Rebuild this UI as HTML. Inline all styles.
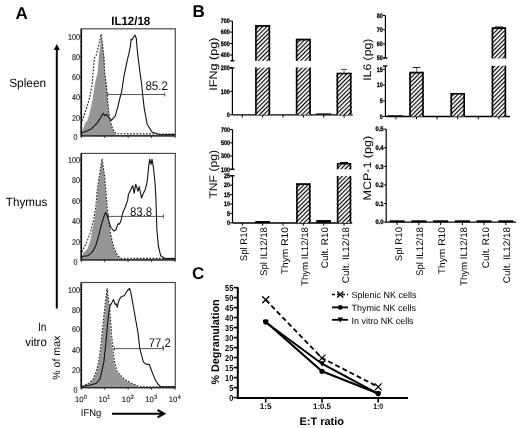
<!DOCTYPE html>
<html><head><meta charset="utf-8"><style>
html,body{margin:0;padding:0;background:#fff;overflow:hidden;}
svg{display:block;font-family:"Liberation Sans", sans-serif;text-rendering:geometricPrecision;will-change:transform;}
</style></head><body>
<svg width="520" height="428" viewBox="0 0 520 428" font-family='"Liberation Sans", sans-serif'>
<rect width="520" height="428" fill="#fff"/>
<text x="15.6" y="19.4" font-size="17" font-weight="bold" text-anchor="start" fill="#000">A</text>
<text x="111.2" y="24.5" font-size="12" font-weight="bold" text-anchor="start" fill="#000" textLength="39" lengthAdjust="spacingAndGlyphs">IL12/18</text>
<line x1="56.8" y1="308.6" x2="56.8" y2="49" stroke="#000" stroke-width="2"/>
<polygon points="53.8,50 59.8,50 56.8,44" fill="#000"/>
<text x="9.2" y="87.1" font-size="12" text-anchor="start" fill="#000" textLength="37" lengthAdjust="spacingAndGlyphs">Spleen</text>
<text x="5.8" y="206.2" font-size="12" text-anchor="start" fill="#000" textLength="41.5" lengthAdjust="spacingAndGlyphs">Thymus</text>
<text x="46.4" y="330.5" font-size="12" text-anchor="end" fill="#000" textLength="8.4" lengthAdjust="spacingAndGlyphs">In</text>
<text x="46.8" y="345.6" font-size="12" text-anchor="end" fill="#000" textLength="21.6" lengthAdjust="spacingAndGlyphs">vitro</text>
<text x="60.5" y="379.7" font-size="10.5" text-anchor="start" fill="#000" transform="rotate(-90 60.5 379.7)" textLength="44" lengthAdjust="spacingAndGlyphs">% of max</text>
<rect x="81.3" y="28.8" width="94.00000000000001" height="107.00000000000001" fill="none" stroke="#444" stroke-width="1.15"/>
<polygon points="82.0,135.5 82.0,131.0 83.1,128.7 85.0,123.6 87.6,120.0 90.2,110.7 92.8,97.9 94.7,85.0 97.6,72.0 99.0,55.0 100.4,44.0 101.1,34.2 102.5,44.0 104.0,58.0 104.6,72.0 106.3,85.0 107.3,97.9 108.6,110.7 109.9,119.7 110.8,123.6 112.4,128.7 114.6,132.6 116.5,135.5" fill="#969696" stroke="none"/>
<polyline points="82.0,121.0 82.5,119.7 85.7,110.7 89.6,97.9 91.3,88.9 92.1,85.0 93.1,72.0 94.5,58.0 96.2,55.2 99.0,44.0 101.1,34.2 102.5,44.0 104.0,58.0 104.6,72.0 106.3,85.0 107.3,97.9 108.6,110.7 109.9,119.7 111.0,123.6 112.6,128.7 114.8,132.6 117.0,133.8 175.0,134.0" fill="none" stroke="#222" stroke-width="1.1" stroke-dasharray="1.8,1.4"/>
<polyline points="82.0,133.0 83.1,132.6 90.9,129.3 97.3,122.9 100.5,117.8 103.1,113.3 104.7,115.8 106.3,114.3 107.6,115.8 109.5,118.4 111.4,120.3 115.3,115.8 117.8,106.9 119.8,98.5 121.7,91.4 122.5,86.0 124.1,75.6 125.5,68.6 127.6,58.8 129.0,53.2 130.4,46.2 131.1,39.2 132.1,39.9 133.2,37.8 135.0,35.0 136.3,38.5 137.4,51.8 138.8,63.0 140.2,74.2 141.6,84.0 142.6,94.0 144.3,108.8 147.2,124.2 152.0,132.0 158.8,134.2 175.0,134.5" fill="none" stroke="#111" stroke-width="1.1" stroke-linejoin="round"/>
<line x1="81.3" y1="28.8" x2="81.3" y2="136.8" stroke="#111" stroke-width="1.6"/>
<line x1="80.0" y1="132.375" x2="81.3" y2="132.375" stroke="#333" stroke-width="0.7"/>
<line x1="80.0" y1="127.45" x2="81.3" y2="127.45" stroke="#333" stroke-width="0.7"/>
<line x1="80.0" y1="122.525" x2="81.3" y2="122.525" stroke="#333" stroke-width="0.7"/>
<text x="77.4" y="140.3" font-size="8.4" text-anchor="end" fill="#222" textLength="4.0" lengthAdjust="spacingAndGlyphs" stroke="#222" stroke-width="0.15">0</text>
<line x1="79.1" y1="117.6" x2="81.3" y2="117.6" stroke="#222" stroke-width="0.9"/>
<line x1="80.0" y1="112.475" x2="81.3" y2="112.475" stroke="#333" stroke-width="0.7"/>
<line x1="80.0" y1="107.35" x2="81.3" y2="107.35" stroke="#333" stroke-width="0.7"/>
<line x1="80.0" y1="102.225" x2="81.3" y2="102.225" stroke="#333" stroke-width="0.7"/>
<text x="79.9" y="120.6" font-size="8.4" text-anchor="end" fill="#222" textLength="8.0" lengthAdjust="spacingAndGlyphs" stroke="#222" stroke-width="0.15">20</text>
<line x1="79.1" y1="97.1" x2="81.3" y2="97.1" stroke="#222" stroke-width="0.9"/>
<line x1="80.0" y1="92.07499999999999" x2="81.3" y2="92.07499999999999" stroke="#333" stroke-width="0.7"/>
<line x1="80.0" y1="87.05" x2="81.3" y2="87.05" stroke="#333" stroke-width="0.7"/>
<line x1="80.0" y1="82.025" x2="81.3" y2="82.025" stroke="#333" stroke-width="0.7"/>
<text x="79.9" y="100.1" font-size="8.4" text-anchor="end" fill="#222" textLength="8.0" lengthAdjust="spacingAndGlyphs" stroke="#222" stroke-width="0.15">40</text>
<line x1="79.1" y1="77" x2="81.3" y2="77" stroke="#222" stroke-width="0.9"/>
<line x1="80.0" y1="71.95" x2="81.3" y2="71.95" stroke="#333" stroke-width="0.7"/>
<line x1="80.0" y1="66.9" x2="81.3" y2="66.9" stroke="#333" stroke-width="0.7"/>
<line x1="80.0" y1="61.849999999999994" x2="81.3" y2="61.849999999999994" stroke="#333" stroke-width="0.7"/>
<text x="79.9" y="80.0" font-size="8.4" text-anchor="end" fill="#222" textLength="8.0" lengthAdjust="spacingAndGlyphs" stroke="#222" stroke-width="0.15">60</text>
<line x1="79.1" y1="56.8" x2="81.3" y2="56.8" stroke="#222" stroke-width="0.9"/>
<line x1="80.0" y1="51.724999999999994" x2="81.3" y2="51.724999999999994" stroke="#333" stroke-width="0.7"/>
<line x1="80.0" y1="46.65" x2="81.3" y2="46.65" stroke="#333" stroke-width="0.7"/>
<line x1="80.0" y1="41.575" x2="81.3" y2="41.575" stroke="#333" stroke-width="0.7"/>
<text x="79.9" y="59.8" font-size="8.4" text-anchor="end" fill="#222" textLength="8.0" lengthAdjust="spacingAndGlyphs" stroke="#222" stroke-width="0.15">80</text>
<line x1="79.1" y1="36.5" x2="81.3" y2="36.5" stroke="#222" stroke-width="0.9"/>
<text x="79.9" y="39.5" font-size="8.4" text-anchor="end" fill="#222" textLength="12.0" lengthAdjust="spacingAndGlyphs" stroke="#222" stroke-width="0.15">100</text>
<line x1="81.3" y1="135.8" x2="175.3" y2="135.8" stroke="#222" stroke-width="1.2"/>
<line x1="81.3" y1="135.8" x2="81.3" y2="138.0" stroke="#222" stroke-width="0.9"/>
<line x1="88.35313279840707" y1="135.8" x2="88.35313279840707" y2="137.0" stroke="#555" stroke-width="0.5"/>
<line x1="92.47895099808169" y1="135.8" x2="92.47895099808169" y2="137.0" stroke="#555" stroke-width="0.5"/>
<line x1="95.40626559681415" y1="135.8" x2="95.40626559681415" y2="137.0" stroke="#555" stroke-width="0.5"/>
<line x1="97.67686720159293" y1="135.8" x2="97.67686720159293" y2="137.0" stroke="#555" stroke-width="0.5"/>
<line x1="99.53208379648876" y1="135.8" x2="99.53208379648876" y2="137.0" stroke="#555" stroke-width="0.5"/>
<line x1="101.10064707753403" y1="135.8" x2="101.10064707753403" y2="137.0" stroke="#555" stroke-width="0.5"/>
<line x1="102.45939839522123" y1="135.8" x2="102.45939839522123" y2="137.0" stroke="#555" stroke-width="0.5"/>
<line x1="103.65790199616337" y1="135.8" x2="103.65790199616337" y2="137.0" stroke="#555" stroke-width="0.5"/>
<line x1="104.72999999999999" y1="135.8" x2="104.72999999999999" y2="138.0" stroke="#222" stroke-width="0.9"/>
<line x1="111.78313279840707" y1="135.8" x2="111.78313279840707" y2="137.0" stroke="#555" stroke-width="0.5"/>
<line x1="115.90895099808168" y1="135.8" x2="115.90895099808168" y2="137.0" stroke="#555" stroke-width="0.5"/>
<line x1="118.83626559681414" y1="135.8" x2="118.83626559681414" y2="137.0" stroke="#555" stroke-width="0.5"/>
<line x1="121.1068672015929" y1="135.8" x2="121.1068672015929" y2="137.0" stroke="#555" stroke-width="0.5"/>
<line x1="122.96208379648876" y1="135.8" x2="122.96208379648876" y2="137.0" stroke="#555" stroke-width="0.5"/>
<line x1="124.53064707753403" y1="135.8" x2="124.53064707753403" y2="137.0" stroke="#555" stroke-width="0.5"/>
<line x1="125.88939839522124" y1="135.8" x2="125.88939839522124" y2="137.0" stroke="#555" stroke-width="0.5"/>
<line x1="127.08790199616337" y1="135.8" x2="127.08790199616337" y2="137.0" stroke="#555" stroke-width="0.5"/>
<line x1="128.16" y1="135.8" x2="128.16" y2="138.0" stroke="#222" stroke-width="0.9"/>
<line x1="135.2131327984071" y1="135.8" x2="135.2131327984071" y2="137.0" stroke="#555" stroke-width="0.5"/>
<line x1="139.33895099808169" y1="135.8" x2="139.33895099808169" y2="137.0" stroke="#555" stroke-width="0.5"/>
<line x1="142.26626559681415" y1="135.8" x2="142.26626559681415" y2="137.0" stroke="#555" stroke-width="0.5"/>
<line x1="144.5368672015929" y1="135.8" x2="144.5368672015929" y2="137.0" stroke="#555" stroke-width="0.5"/>
<line x1="146.39208379648878" y1="135.8" x2="146.39208379648878" y2="137.0" stroke="#555" stroke-width="0.5"/>
<line x1="147.96064707753402" y1="135.8" x2="147.96064707753402" y2="137.0" stroke="#555" stroke-width="0.5"/>
<line x1="149.31939839522124" y1="135.8" x2="149.31939839522124" y2="137.0" stroke="#555" stroke-width="0.5"/>
<line x1="150.51790199616337" y1="135.8" x2="150.51790199616337" y2="137.0" stroke="#555" stroke-width="0.5"/>
<line x1="151.58999999999997" y1="135.8" x2="151.58999999999997" y2="138.0" stroke="#222" stroke-width="0.9"/>
<line x1="158.64313279840707" y1="135.8" x2="158.64313279840707" y2="137.0" stroke="#555" stroke-width="0.5"/>
<line x1="162.76895099808166" y1="135.8" x2="162.76895099808166" y2="137.0" stroke="#555" stroke-width="0.5"/>
<line x1="165.69626559681413" y1="135.8" x2="165.69626559681413" y2="137.0" stroke="#555" stroke-width="0.5"/>
<line x1="167.9668672015929" y1="135.8" x2="167.9668672015929" y2="137.0" stroke="#555" stroke-width="0.5"/>
<line x1="169.82208379648876" y1="135.8" x2="169.82208379648876" y2="137.0" stroke="#555" stroke-width="0.5"/>
<line x1="171.39064707753403" y1="135.8" x2="171.39064707753403" y2="137.0" stroke="#555" stroke-width="0.5"/>
<line x1="172.74939839522122" y1="135.8" x2="172.74939839522122" y2="137.0" stroke="#555" stroke-width="0.5"/>
<line x1="173.94790199616335" y1="135.8" x2="173.94790199616335" y2="137.0" stroke="#555" stroke-width="0.5"/>
<line x1="175.01999999999998" y1="135.8" x2="175.01999999999998" y2="138.0" stroke="#222" stroke-width="0.9"/>
<line x1="107.8" y1="94.5" x2="164.8" y2="94.5" stroke="#444" stroke-width="0.9"/>
<line x1="107.8" y1="92.5" x2="107.8" y2="96.5" stroke="#444" stroke-width="0.9"/>
<line x1="164.8" y1="92.5" x2="164.8" y2="96.5" stroke="#444" stroke-width="0.9"/>
<text x="145.4" y="89.9" font-size="12.5" text-anchor="start" fill="#111" textLength="22.6" lengthAdjust="spacingAndGlyphs">85.2</text>
<rect x="81.3" y="153.4" width="94.00000000000001" height="106.49999999999997" fill="none" stroke="#444" stroke-width="1.15"/>
<polygon points="82.0,259.7 82.0,256.0 83.3,253.0 87.3,249.0 90.0,242.0 92.0,231.7 94.7,218.3 96.7,205.0 97.4,192.0 99.3,178.0 102.1,159.1 104.6,178.0 105.8,192.0 106.7,205.0 108.0,218.3 110.0,231.7 112.0,242.0 114.0,249.0 117.3,255.7 120.7,258.5 122.0,259.7" fill="#969696" stroke="none"/>
<polyline points="82.0,252.0 83.3,249.0 86.7,242.3 90.7,231.7 94.0,218.3 96.0,205.0 97.0,192.0 99.0,178.0 102.1,158.8 104.8,178.0 106.0,192.0 107.0,205.0 108.3,218.3 110.3,231.7 112.3,242.0 114.3,249.0 117.6,255.7 121.0,258.3 175.0,258.4" fill="none" stroke="#222" stroke-width="1.1" stroke-dasharray="1.8,1.4"/>
<polyline points="82.0,257.0 83.3,256.3 88.0,255.7 92.7,251.7 96.0,245.0 98.7,235.7 101.3,225.0 104.0,216.3 105.7,212.3 108.0,218.3 110.7,227.0 113.7,231.0 116.0,229.7 118.0,223.7 119.3,224.3 120.9,221.0 122.7,213.0 125.3,207.0 127.6,200.4 128.5,194.2 130.0,191.3 132.8,185.6 134.2,193.3 135.7,184.2 138.0,191.3 139.2,186.5 141.5,198.0 143.4,193.3 145.3,189.4 147.2,181.7 148.8,165.4 149.7,159.2 151.0,164.4 152.0,159.2 153.4,167.3 155.0,182.7 156.0,200.0 156.8,228.8 158.4,246.0 160.7,255.8 165.0,258.5 175.0,258.6" fill="none" stroke="#111" stroke-width="1.1" stroke-linejoin="round"/>
<line x1="81.3" y1="153.4" x2="81.3" y2="260.9" stroke="#111" stroke-width="1.6"/>
<line x1="80.0" y1="256.9" x2="81.3" y2="256.9" stroke="#333" stroke-width="0.7"/>
<line x1="80.0" y1="251.8" x2="81.3" y2="251.8" stroke="#333" stroke-width="0.7"/>
<line x1="80.0" y1="246.7" x2="81.3" y2="246.7" stroke="#333" stroke-width="0.7"/>
<text x="77.4" y="265.0" font-size="8.4" text-anchor="end" fill="#222" textLength="4.0" lengthAdjust="spacingAndGlyphs" stroke="#222" stroke-width="0.15">0</text>
<line x1="79.1" y1="241.6" x2="81.3" y2="241.6" stroke="#222" stroke-width="0.9"/>
<line x1="80.0" y1="236.525" x2="81.3" y2="236.525" stroke="#333" stroke-width="0.7"/>
<line x1="80.0" y1="231.45" x2="81.3" y2="231.45" stroke="#333" stroke-width="0.7"/>
<line x1="80.0" y1="226.375" x2="81.3" y2="226.375" stroke="#333" stroke-width="0.7"/>
<text x="79.9" y="244.6" font-size="8.4" text-anchor="end" fill="#222" textLength="8.0" lengthAdjust="spacingAndGlyphs" stroke="#222" stroke-width="0.15">20</text>
<line x1="79.1" y1="221.3" x2="81.3" y2="221.3" stroke="#222" stroke-width="0.9"/>
<line x1="80.0" y1="216.125" x2="81.3" y2="216.125" stroke="#333" stroke-width="0.7"/>
<line x1="80.0" y1="210.95" x2="81.3" y2="210.95" stroke="#333" stroke-width="0.7"/>
<line x1="80.0" y1="205.775" x2="81.3" y2="205.775" stroke="#333" stroke-width="0.7"/>
<text x="79.9" y="224.3" font-size="8.4" text-anchor="end" fill="#222" textLength="8.0" lengthAdjust="spacingAndGlyphs" stroke="#222" stroke-width="0.15">40</text>
<line x1="79.1" y1="200.6" x2="81.3" y2="200.6" stroke="#222" stroke-width="0.9"/>
<line x1="80.0" y1="195.525" x2="81.3" y2="195.525" stroke="#333" stroke-width="0.7"/>
<line x1="80.0" y1="190.45" x2="81.3" y2="190.45" stroke="#333" stroke-width="0.7"/>
<line x1="80.0" y1="185.375" x2="81.3" y2="185.375" stroke="#333" stroke-width="0.7"/>
<text x="79.9" y="203.6" font-size="8.4" text-anchor="end" fill="#222" textLength="8.0" lengthAdjust="spacingAndGlyphs" stroke="#222" stroke-width="0.15">60</text>
<line x1="79.1" y1="180.3" x2="81.3" y2="180.3" stroke="#222" stroke-width="0.9"/>
<line x1="80.0" y1="175.22500000000002" x2="81.3" y2="175.22500000000002" stroke="#333" stroke-width="0.7"/>
<line x1="80.0" y1="170.15" x2="81.3" y2="170.15" stroke="#333" stroke-width="0.7"/>
<line x1="80.0" y1="165.075" x2="81.3" y2="165.075" stroke="#333" stroke-width="0.7"/>
<text x="79.9" y="183.3" font-size="8.4" text-anchor="end" fill="#222" textLength="8.0" lengthAdjust="spacingAndGlyphs" stroke="#222" stroke-width="0.15">80</text>
<line x1="79.1" y1="160" x2="81.3" y2="160" stroke="#222" stroke-width="0.9"/>
<text x="79.9" y="163.0" font-size="8.4" text-anchor="end" fill="#222" textLength="12.0" lengthAdjust="spacingAndGlyphs" stroke="#222" stroke-width="0.15">100</text>
<line x1="81.3" y1="259.9" x2="175.3" y2="259.9" stroke="#222" stroke-width="1.2"/>
<line x1="81.3" y1="259.9" x2="81.3" y2="262.09999999999997" stroke="#222" stroke-width="0.9"/>
<line x1="88.35313279840707" y1="259.9" x2="88.35313279840707" y2="261.09999999999997" stroke="#555" stroke-width="0.5"/>
<line x1="92.47895099808169" y1="259.9" x2="92.47895099808169" y2="261.09999999999997" stroke="#555" stroke-width="0.5"/>
<line x1="95.40626559681415" y1="259.9" x2="95.40626559681415" y2="261.09999999999997" stroke="#555" stroke-width="0.5"/>
<line x1="97.67686720159293" y1="259.9" x2="97.67686720159293" y2="261.09999999999997" stroke="#555" stroke-width="0.5"/>
<line x1="99.53208379648876" y1="259.9" x2="99.53208379648876" y2="261.09999999999997" stroke="#555" stroke-width="0.5"/>
<line x1="101.10064707753403" y1="259.9" x2="101.10064707753403" y2="261.09999999999997" stroke="#555" stroke-width="0.5"/>
<line x1="102.45939839522123" y1="259.9" x2="102.45939839522123" y2="261.09999999999997" stroke="#555" stroke-width="0.5"/>
<line x1="103.65790199616337" y1="259.9" x2="103.65790199616337" y2="261.09999999999997" stroke="#555" stroke-width="0.5"/>
<line x1="104.72999999999999" y1="259.9" x2="104.72999999999999" y2="262.09999999999997" stroke="#222" stroke-width="0.9"/>
<line x1="111.78313279840707" y1="259.9" x2="111.78313279840707" y2="261.09999999999997" stroke="#555" stroke-width="0.5"/>
<line x1="115.90895099808168" y1="259.9" x2="115.90895099808168" y2="261.09999999999997" stroke="#555" stroke-width="0.5"/>
<line x1="118.83626559681414" y1="259.9" x2="118.83626559681414" y2="261.09999999999997" stroke="#555" stroke-width="0.5"/>
<line x1="121.1068672015929" y1="259.9" x2="121.1068672015929" y2="261.09999999999997" stroke="#555" stroke-width="0.5"/>
<line x1="122.96208379648876" y1="259.9" x2="122.96208379648876" y2="261.09999999999997" stroke="#555" stroke-width="0.5"/>
<line x1="124.53064707753403" y1="259.9" x2="124.53064707753403" y2="261.09999999999997" stroke="#555" stroke-width="0.5"/>
<line x1="125.88939839522124" y1="259.9" x2="125.88939839522124" y2="261.09999999999997" stroke="#555" stroke-width="0.5"/>
<line x1="127.08790199616337" y1="259.9" x2="127.08790199616337" y2="261.09999999999997" stroke="#555" stroke-width="0.5"/>
<line x1="128.16" y1="259.9" x2="128.16" y2="262.09999999999997" stroke="#222" stroke-width="0.9"/>
<line x1="135.2131327984071" y1="259.9" x2="135.2131327984071" y2="261.09999999999997" stroke="#555" stroke-width="0.5"/>
<line x1="139.33895099808169" y1="259.9" x2="139.33895099808169" y2="261.09999999999997" stroke="#555" stroke-width="0.5"/>
<line x1="142.26626559681415" y1="259.9" x2="142.26626559681415" y2="261.09999999999997" stroke="#555" stroke-width="0.5"/>
<line x1="144.5368672015929" y1="259.9" x2="144.5368672015929" y2="261.09999999999997" stroke="#555" stroke-width="0.5"/>
<line x1="146.39208379648878" y1="259.9" x2="146.39208379648878" y2="261.09999999999997" stroke="#555" stroke-width="0.5"/>
<line x1="147.96064707753402" y1="259.9" x2="147.96064707753402" y2="261.09999999999997" stroke="#555" stroke-width="0.5"/>
<line x1="149.31939839522124" y1="259.9" x2="149.31939839522124" y2="261.09999999999997" stroke="#555" stroke-width="0.5"/>
<line x1="150.51790199616337" y1="259.9" x2="150.51790199616337" y2="261.09999999999997" stroke="#555" stroke-width="0.5"/>
<line x1="151.58999999999997" y1="259.9" x2="151.58999999999997" y2="262.09999999999997" stroke="#222" stroke-width="0.9"/>
<line x1="158.64313279840707" y1="259.9" x2="158.64313279840707" y2="261.09999999999997" stroke="#555" stroke-width="0.5"/>
<line x1="162.76895099808166" y1="259.9" x2="162.76895099808166" y2="261.09999999999997" stroke="#555" stroke-width="0.5"/>
<line x1="165.69626559681413" y1="259.9" x2="165.69626559681413" y2="261.09999999999997" stroke="#555" stroke-width="0.5"/>
<line x1="167.9668672015929" y1="259.9" x2="167.9668672015929" y2="261.09999999999997" stroke="#555" stroke-width="0.5"/>
<line x1="169.82208379648876" y1="259.9" x2="169.82208379648876" y2="261.09999999999997" stroke="#555" stroke-width="0.5"/>
<line x1="171.39064707753403" y1="259.9" x2="171.39064707753403" y2="261.09999999999997" stroke="#555" stroke-width="0.5"/>
<line x1="172.74939839522122" y1="259.9" x2="172.74939839522122" y2="261.09999999999997" stroke="#555" stroke-width="0.5"/>
<line x1="173.94790199616335" y1="259.9" x2="173.94790199616335" y2="261.09999999999997" stroke="#555" stroke-width="0.5"/>
<line x1="175.01999999999998" y1="259.9" x2="175.01999999999998" y2="262.09999999999997" stroke="#222" stroke-width="0.9"/>
<line x1="108.5" y1="216.4" x2="163.4" y2="216.4" stroke="#444" stroke-width="0.9"/>
<line x1="108.5" y1="214.4" x2="108.5" y2="218.4" stroke="#444" stroke-width="0.9"/>
<line x1="163.4" y1="214.4" x2="163.4" y2="218.4" stroke="#444" stroke-width="0.9"/>
<text x="129.9" y="216.3" font-size="12.5" text-anchor="start" fill="#111" textLength="22.3" lengthAdjust="spacingAndGlyphs">83.8</text>
<rect x="81.3" y="282.5" width="94.00000000000001" height="105.10000000000002" fill="none" stroke="#444" stroke-width="1.15"/>
<polygon points="82.0,387.5 82.0,386.5 84.7,385.3 89.8,382.9 93.8,378.9 97.1,370.9 99.1,361.6 101.1,348.3 102.4,335.0 103.8,322.0 105.2,308.0 107.1,288.4 109.1,308.0 110.2,322.0 110.8,335.0 112.1,348.3 113.8,361.6 116.1,370.9 119.4,374.9 123.4,378.9 130.0,382.9 135.4,385.3 140.0,387.5" fill="#969696" stroke="none"/>
<polyline points="82.0,386.5 84.7,385.3 89.3,382.9 93.3,378.9 96.6,370.9 98.6,361.6 100.6,348.3 101.9,336.0 103.3,322.0 104.7,308.0 107.1,288.2 109.6,308.0 110.7,322.0 111.7,336.0 112.8,348.3 114.5,361.6 116.8,370.9 120.1,374.9 124.1,378.9 130.7,382.9 136.1,385.3 140.5,386.7 175.0,386.7" fill="none" stroke="#222" stroke-width="1.1" stroke-dasharray="1.8,1.4"/>
<polyline points="82.0,386.5 89.3,385.3 96.0,383.5 100.0,378.9 101.9,370.9 103.9,361.6 105.3,348.3 106.6,335.0 107.5,324.8 108.9,312.2 109.9,305.9 111.7,303.1 113.5,299.6 115.2,304.5 116.3,303.8 117.3,307.3 118.7,301.0 120.5,297.5 122.5,296.1 124.3,295.7 125.7,293.3 127.5,290.5 129.6,288.4 131.0,293.4 133.8,309.0 136.6,325.0 138.1,333.5 139.8,348.6 141.8,356.2 143.5,362.1 146.0,364.1 149.4,364.6 150.6,368.0 152.8,373.9 155.3,379.8 157.8,384.0 160.4,386.5 175.0,386.8" fill="none" stroke="#111" stroke-width="1.1" stroke-linejoin="round"/>
<line x1="81.3" y1="282.5" x2="81.3" y2="388.6" stroke="#111" stroke-width="1.6"/>
<line x1="80.0" y1="385.0" x2="81.3" y2="385.0" stroke="#333" stroke-width="0.7"/>
<line x1="80.0" y1="380.0" x2="81.3" y2="380.0" stroke="#333" stroke-width="0.7"/>
<line x1="80.0" y1="375.0" x2="81.3" y2="375.0" stroke="#333" stroke-width="0.7"/>
<text x="77.4" y="393.0" font-size="8.4" text-anchor="end" fill="#222" textLength="4.0" lengthAdjust="spacingAndGlyphs" stroke="#222" stroke-width="0.15">0</text>
<line x1="79.1" y1="370" x2="81.3" y2="370" stroke="#222" stroke-width="0.9"/>
<line x1="80.0" y1="364.925" x2="81.3" y2="364.925" stroke="#333" stroke-width="0.7"/>
<line x1="80.0" y1="359.85" x2="81.3" y2="359.85" stroke="#333" stroke-width="0.7"/>
<line x1="80.0" y1="354.775" x2="81.3" y2="354.775" stroke="#333" stroke-width="0.7"/>
<text x="79.9" y="373.0" font-size="8.4" text-anchor="end" fill="#222" textLength="8.0" lengthAdjust="spacingAndGlyphs" stroke="#222" stroke-width="0.15">20</text>
<line x1="79.1" y1="349.7" x2="81.3" y2="349.7" stroke="#222" stroke-width="0.9"/>
<line x1="80.0" y1="344.625" x2="81.3" y2="344.625" stroke="#333" stroke-width="0.7"/>
<line x1="80.0" y1="339.54999999999995" x2="81.3" y2="339.54999999999995" stroke="#333" stroke-width="0.7"/>
<line x1="80.0" y1="334.47499999999997" x2="81.3" y2="334.47499999999997" stroke="#333" stroke-width="0.7"/>
<text x="79.9" y="352.7" font-size="8.4" text-anchor="end" fill="#222" textLength="8.0" lengthAdjust="spacingAndGlyphs" stroke="#222" stroke-width="0.15">40</text>
<line x1="79.1" y1="329.4" x2="81.3" y2="329.4" stroke="#222" stroke-width="0.9"/>
<line x1="80.0" y1="324.47499999999997" x2="81.3" y2="324.47499999999997" stroke="#333" stroke-width="0.7"/>
<line x1="80.0" y1="319.54999999999995" x2="81.3" y2="319.54999999999995" stroke="#333" stroke-width="0.7"/>
<line x1="80.0" y1="314.625" x2="81.3" y2="314.625" stroke="#333" stroke-width="0.7"/>
<text x="79.9" y="332.4" font-size="8.4" text-anchor="end" fill="#222" textLength="8.0" lengthAdjust="spacingAndGlyphs" stroke="#222" stroke-width="0.15">60</text>
<line x1="79.1" y1="309.7" x2="81.3" y2="309.7" stroke="#222" stroke-width="0.9"/>
<line x1="80.0" y1="304.65" x2="81.3" y2="304.65" stroke="#333" stroke-width="0.7"/>
<line x1="80.0" y1="299.6" x2="81.3" y2="299.6" stroke="#333" stroke-width="0.7"/>
<line x1="80.0" y1="294.55" x2="81.3" y2="294.55" stroke="#333" stroke-width="0.7"/>
<text x="79.9" y="312.7" font-size="8.4" text-anchor="end" fill="#222" textLength="8.0" lengthAdjust="spacingAndGlyphs" stroke="#222" stroke-width="0.15">80</text>
<line x1="79.1" y1="289.5" x2="81.3" y2="289.5" stroke="#222" stroke-width="0.9"/>
<text x="79.9" y="292.5" font-size="8.4" text-anchor="end" fill="#222" textLength="12.0" lengthAdjust="spacingAndGlyphs" stroke="#222" stroke-width="0.15">100</text>
<line x1="81.3" y1="387.6" x2="175.3" y2="387.6" stroke="#222" stroke-width="1.2"/>
<line x1="81.3" y1="387.6" x2="81.3" y2="389.8" stroke="#222" stroke-width="0.9"/>
<line x1="88.35313279840707" y1="387.6" x2="88.35313279840707" y2="388.8" stroke="#555" stroke-width="0.5"/>
<line x1="92.47895099808169" y1="387.6" x2="92.47895099808169" y2="388.8" stroke="#555" stroke-width="0.5"/>
<line x1="95.40626559681415" y1="387.6" x2="95.40626559681415" y2="388.8" stroke="#555" stroke-width="0.5"/>
<line x1="97.67686720159293" y1="387.6" x2="97.67686720159293" y2="388.8" stroke="#555" stroke-width="0.5"/>
<line x1="99.53208379648876" y1="387.6" x2="99.53208379648876" y2="388.8" stroke="#555" stroke-width="0.5"/>
<line x1="101.10064707753403" y1="387.6" x2="101.10064707753403" y2="388.8" stroke="#555" stroke-width="0.5"/>
<line x1="102.45939839522123" y1="387.6" x2="102.45939839522123" y2="388.8" stroke="#555" stroke-width="0.5"/>
<line x1="103.65790199616337" y1="387.6" x2="103.65790199616337" y2="388.8" stroke="#555" stroke-width="0.5"/>
<line x1="104.72999999999999" y1="387.6" x2="104.72999999999999" y2="389.8" stroke="#222" stroke-width="0.9"/>
<line x1="111.78313279840707" y1="387.6" x2="111.78313279840707" y2="388.8" stroke="#555" stroke-width="0.5"/>
<line x1="115.90895099808168" y1="387.6" x2="115.90895099808168" y2="388.8" stroke="#555" stroke-width="0.5"/>
<line x1="118.83626559681414" y1="387.6" x2="118.83626559681414" y2="388.8" stroke="#555" stroke-width="0.5"/>
<line x1="121.1068672015929" y1="387.6" x2="121.1068672015929" y2="388.8" stroke="#555" stroke-width="0.5"/>
<line x1="122.96208379648876" y1="387.6" x2="122.96208379648876" y2="388.8" stroke="#555" stroke-width="0.5"/>
<line x1="124.53064707753403" y1="387.6" x2="124.53064707753403" y2="388.8" stroke="#555" stroke-width="0.5"/>
<line x1="125.88939839522124" y1="387.6" x2="125.88939839522124" y2="388.8" stroke="#555" stroke-width="0.5"/>
<line x1="127.08790199616337" y1="387.6" x2="127.08790199616337" y2="388.8" stroke="#555" stroke-width="0.5"/>
<line x1="128.16" y1="387.6" x2="128.16" y2="389.8" stroke="#222" stroke-width="0.9"/>
<line x1="135.2131327984071" y1="387.6" x2="135.2131327984071" y2="388.8" stroke="#555" stroke-width="0.5"/>
<line x1="139.33895099808169" y1="387.6" x2="139.33895099808169" y2="388.8" stroke="#555" stroke-width="0.5"/>
<line x1="142.26626559681415" y1="387.6" x2="142.26626559681415" y2="388.8" stroke="#555" stroke-width="0.5"/>
<line x1="144.5368672015929" y1="387.6" x2="144.5368672015929" y2="388.8" stroke="#555" stroke-width="0.5"/>
<line x1="146.39208379648878" y1="387.6" x2="146.39208379648878" y2="388.8" stroke="#555" stroke-width="0.5"/>
<line x1="147.96064707753402" y1="387.6" x2="147.96064707753402" y2="388.8" stroke="#555" stroke-width="0.5"/>
<line x1="149.31939839522124" y1="387.6" x2="149.31939839522124" y2="388.8" stroke="#555" stroke-width="0.5"/>
<line x1="150.51790199616337" y1="387.6" x2="150.51790199616337" y2="388.8" stroke="#555" stroke-width="0.5"/>
<line x1="151.58999999999997" y1="387.6" x2="151.58999999999997" y2="389.8" stroke="#222" stroke-width="0.9"/>
<line x1="158.64313279840707" y1="387.6" x2="158.64313279840707" y2="388.8" stroke="#555" stroke-width="0.5"/>
<line x1="162.76895099808166" y1="387.6" x2="162.76895099808166" y2="388.8" stroke="#555" stroke-width="0.5"/>
<line x1="165.69626559681413" y1="387.6" x2="165.69626559681413" y2="388.8" stroke="#555" stroke-width="0.5"/>
<line x1="167.9668672015929" y1="387.6" x2="167.9668672015929" y2="388.8" stroke="#555" stroke-width="0.5"/>
<line x1="169.82208379648876" y1="387.6" x2="169.82208379648876" y2="388.8" stroke="#555" stroke-width="0.5"/>
<line x1="171.39064707753403" y1="387.6" x2="171.39064707753403" y2="388.8" stroke="#555" stroke-width="0.5"/>
<line x1="172.74939839522122" y1="387.6" x2="172.74939839522122" y2="388.8" stroke="#555" stroke-width="0.5"/>
<line x1="173.94790199616335" y1="387.6" x2="173.94790199616335" y2="388.8" stroke="#555" stroke-width="0.5"/>
<line x1="175.01999999999998" y1="387.6" x2="175.01999999999998" y2="389.8" stroke="#222" stroke-width="0.9"/>
<line x1="114.3" y1="348.6" x2="163.3" y2="348.6" stroke="#444" stroke-width="0.9"/>
<line x1="114.3" y1="346.6" x2="114.3" y2="350.6" stroke="#444" stroke-width="0.9"/>
<line x1="163.3" y1="346.6" x2="163.3" y2="350.6" stroke="#444" stroke-width="0.9"/>
<text x="148.8" y="347.1" font-size="12.5" text-anchor="start" fill="#111" textLength="22.0" lengthAdjust="spacingAndGlyphs">77,2</text>
<text x="75.0" y="401.8" font-size="7.8" fill="#222" stroke="#222" stroke-width="0.1">10<tspan font-size="6" dy="-3">0</tspan></text>
<text x="98.42999999999999" y="401.8" font-size="7.8" fill="#222" stroke="#222" stroke-width="0.1">10<tspan font-size="6" dy="-3">1</tspan></text>
<text x="121.86" y="401.8" font-size="7.8" fill="#222" stroke="#222" stroke-width="0.1">10<tspan font-size="6" dy="-3">2</tspan></text>
<text x="145.28999999999996" y="401.8" font-size="7.8" fill="#222" stroke="#222" stroke-width="0.1">10<tspan font-size="6" dy="-3">3</tspan></text>
<text x="168.71999999999997" y="401.8" font-size="7.8" fill="#222" stroke="#222" stroke-width="0.1">10<tspan font-size="6" dy="-3">4</tspan></text>
<text x="80.8" y="415.8" font-size="10" text-anchor="start" fill="#000" textLength="20.5" lengthAdjust="spacingAndGlyphs">IFNg</text>
<line x1="112" y1="413.7" x2="164" y2="413.7" stroke="#000" stroke-width="2"/>
<polyline points="157.5,410 164.2,413.7 157.5,417.4" fill="none" stroke="#000" stroke-width="2"/>
<text x="192.5" y="17.1" font-size="17" font-weight="bold" text-anchor="start" fill="#000">B</text>
<defs><pattern id="h" patternUnits="userSpaceOnUse" width="3.0" height="3.0" patternTransform="rotate(45)"><rect width="3.0" height="3.0" fill="#fff"/><rect x="0" y="0" width="1.15" height="3.0" fill="#000"/></pattern></defs>
<line x1="232.4" y1="21" x2="232.4" y2="60.8" stroke="#000" stroke-width="1.2"/>
<line x1="230.4" y1="60.8" x2="234.4" y2="60.8" stroke="#000" stroke-width="1.4"/>
<line x1="229.8" y1="21" x2="232.4" y2="21" stroke="#000" stroke-width="1"/>
<text x="229.8" y="23.2" font-size="6.6" font-weight="bold" text-anchor="end" fill="#000" textLength="9.0" lengthAdjust="spacingAndGlyphs" stroke="#000" stroke-width="0.3">700</text>
<line x1="229.8" y1="32.1" x2="232.4" y2="32.1" stroke="#000" stroke-width="1"/>
<text x="229.8" y="34.300000000000004" font-size="6.6" font-weight="bold" text-anchor="end" fill="#000" textLength="9.0" lengthAdjust="spacingAndGlyphs" stroke="#000" stroke-width="0.3">600</text>
<line x1="229.8" y1="43.5" x2="232.4" y2="43.5" stroke="#000" stroke-width="1"/>
<text x="229.8" y="45.7" font-size="6.6" font-weight="bold" text-anchor="end" fill="#000" textLength="9.0" lengthAdjust="spacingAndGlyphs" stroke="#000" stroke-width="0.3">500</text>
<line x1="229.8" y1="55" x2="232.4" y2="55" stroke="#000" stroke-width="1"/>
<text x="229.8" y="57.2" font-size="6.6" font-weight="bold" text-anchor="end" fill="#000" textLength="9.0" lengthAdjust="spacingAndGlyphs" stroke="#000" stroke-width="0.3">400</text>
<line x1="232.4" y1="67.9" x2="232.4" y2="114.8" stroke="#000" stroke-width="1.2"/>
<line x1="230.0" y1="67.9" x2="234.4" y2="67.9" stroke="#000" stroke-width="1.4"/>
<line x1="229.8" y1="67.9" x2="232.4" y2="67.9" stroke="#000" stroke-width="1"/>
<text x="229.8" y="70.10000000000001" font-size="6.6" font-weight="bold" text-anchor="end" fill="#000" textLength="9.0" lengthAdjust="spacingAndGlyphs" stroke="#000" stroke-width="0.3">200</text>
<line x1="229.8" y1="91.4" x2="232.4" y2="91.4" stroke="#000" stroke-width="1"/>
<text x="229.8" y="93.60000000000001" font-size="6.6" font-weight="bold" text-anchor="end" fill="#000" textLength="9.0" lengthAdjust="spacingAndGlyphs" stroke="#000" stroke-width="0.3">100</text>
<line x1="229.8" y1="114.8" x2="232.4" y2="114.8" stroke="#000" stroke-width="1"/>
<text x="229.8" y="117.0" font-size="6.6" font-weight="bold" text-anchor="end" fill="#000" textLength="3.0" lengthAdjust="spacingAndGlyphs" stroke="#000" stroke-width="0.3">0</text>
<line x1="232.4" y1="114.8" x2="352.7" y2="114.8" stroke="#000" stroke-width="1.3"/>
<line x1="242.3" y1="114.8" x2="242.3" y2="117.6" stroke="#000" stroke-width="1"/>
<line x1="262.65000000000003" y1="114.8" x2="262.65000000000003" y2="117.6" stroke="#000" stroke-width="1"/>
<line x1="283.0" y1="114.8" x2="283.0" y2="117.6" stroke="#000" stroke-width="1"/>
<line x1="303.35" y1="114.8" x2="303.35" y2="117.6" stroke="#000" stroke-width="1"/>
<line x1="323.70000000000005" y1="114.8" x2="323.70000000000005" y2="117.6" stroke="#000" stroke-width="1"/>
<line x1="344.05" y1="114.8" x2="344.05" y2="117.6" stroke="#000" stroke-width="1"/>
<rect x="255.15000000000003" y="25.1" width="15.0" height="35.699999999999996" fill="url(#h)"/>
<path d="M255.95000000000005,60.8V25.900000000000002H269.35V60.8" fill="none" stroke="#000" stroke-width="1.6"/>
<rect x="255.15000000000003" y="67.6" width="15.0" height="47.2" fill="url(#h)"/>
<path d="M255.95000000000005,114.8V67.6M269.35,67.6V114.8" fill="none" stroke="#000" stroke-width="1.6"/>
<rect x="295.85" y="38.8" width="15.0" height="22.0" fill="url(#h)"/>
<path d="M296.65000000000003,60.8V39.599999999999994H310.05V60.8" fill="none" stroke="#000" stroke-width="1.6"/>
<rect x="295.85" y="67.6" width="15.0" height="47.2" fill="url(#h)"/>
<path d="M296.65000000000003,114.8V67.6M310.05,67.6V114.8" fill="none" stroke="#000" stroke-width="1.6"/>
<line x1="344.05" y1="72.7" x2="344.05" y2="69.4" stroke="#555" stroke-width="0.7"/>
<line x1="341.05" y1="69.4" x2="347.05" y2="69.4" stroke="#333" stroke-width="0.9"/>
<rect x="336.55" y="72.7" width="15.0" height="42.099999999999994" fill="url(#h)"/>
<path d="M337.35,114.8V73.5H350.75V114.8" fill="none" stroke="#000" stroke-width="1.6"/>
<line x1="316.20000000000005" y1="114.0" x2="331.20000000000005" y2="114.0" stroke="#000" stroke-width="1.2"/>
<text x="216.8" y="90.8" font-size="11" text-anchor="start" fill="#000" transform="rotate(-90 216.8 90.8)" textLength="53.2" lengthAdjust="spacingAndGlyphs">IFNg (pg)</text>
<line x1="385.4" y1="15.5" x2="385.4" y2="58" stroke="#000" stroke-width="1.2"/>
<line x1="383.4" y1="58" x2="387.4" y2="58" stroke="#000" stroke-width="1.4"/>
<line x1="382.79999999999995" y1="15.5" x2="385.4" y2="15.5" stroke="#000" stroke-width="1"/>
<text x="382.79999999999995" y="17.7" font-size="6.6" font-weight="bold" text-anchor="end" fill="#000" textLength="6.0" lengthAdjust="spacingAndGlyphs" stroke="#000" stroke-width="0.3">80</text>
<line x1="382.79999999999995" y1="29.7" x2="385.4" y2="29.7" stroke="#000" stroke-width="1"/>
<text x="382.79999999999995" y="31.9" font-size="6.6" font-weight="bold" text-anchor="end" fill="#000" textLength="6.0" lengthAdjust="spacingAndGlyphs" stroke="#000" stroke-width="0.3">70</text>
<line x1="382.79999999999995" y1="43.9" x2="385.4" y2="43.9" stroke="#000" stroke-width="1"/>
<text x="382.79999999999995" y="46.1" font-size="6.6" font-weight="bold" text-anchor="end" fill="#000" textLength="6.0" lengthAdjust="spacingAndGlyphs" stroke="#000" stroke-width="0.3">60</text>
<line x1="382.79999999999995" y1="58" x2="385.4" y2="58" stroke="#000" stroke-width="1"/>
<text x="382.79999999999995" y="60.2" font-size="6.6" font-weight="bold" text-anchor="end" fill="#000" textLength="6.0" lengthAdjust="spacingAndGlyphs" stroke="#000" stroke-width="0.3">50</text>
<line x1="385.4" y1="66" x2="385.4" y2="116.5" stroke="#000" stroke-width="1.2"/>
<line x1="383.0" y1="66" x2="387.4" y2="66" stroke="#000" stroke-width="1.4"/>
<line x1="382.79999999999995" y1="69.3" x2="385.4" y2="69.3" stroke="#000" stroke-width="1"/>
<text x="382.79999999999995" y="71.5" font-size="6.6" font-weight="bold" text-anchor="end" fill="#000" textLength="6.0" lengthAdjust="spacingAndGlyphs" stroke="#000" stroke-width="0.3">15</text>
<line x1="382.79999999999995" y1="85.0" x2="385.4" y2="85.0" stroke="#000" stroke-width="1"/>
<text x="382.79999999999995" y="87.2" font-size="6.6" font-weight="bold" text-anchor="end" fill="#000" textLength="6.0" lengthAdjust="spacingAndGlyphs" stroke="#000" stroke-width="0.3">10</text>
<line x1="382.79999999999995" y1="100.8" x2="385.4" y2="100.8" stroke="#000" stroke-width="1"/>
<text x="382.79999999999995" y="103.0" font-size="6.6" font-weight="bold" text-anchor="end" fill="#000" textLength="3.0" lengthAdjust="spacingAndGlyphs" stroke="#000" stroke-width="0.3">5</text>
<line x1="382.79999999999995" y1="116.5" x2="385.4" y2="116.5" stroke="#000" stroke-width="1"/>
<text x="382.79999999999995" y="118.7" font-size="6.6" font-weight="bold" text-anchor="end" fill="#000" textLength="3.0" lengthAdjust="spacingAndGlyphs" stroke="#000" stroke-width="0.3">0</text>
<line x1="385.4" y1="116.5" x2="510" y2="116.5" stroke="#000" stroke-width="1.3"/>
<line x1="395.9" y1="116.5" x2="395.9" y2="119.3" stroke="#000" stroke-width="1"/>
<line x1="416.5" y1="116.5" x2="416.5" y2="119.3" stroke="#000" stroke-width="1"/>
<line x1="437.09999999999997" y1="116.5" x2="437.09999999999997" y2="119.3" stroke="#000" stroke-width="1"/>
<line x1="457.7" y1="116.5" x2="457.7" y2="119.3" stroke="#000" stroke-width="1"/>
<line x1="478.29999999999995" y1="116.5" x2="478.29999999999995" y2="119.3" stroke="#000" stroke-width="1"/>
<line x1="498.9" y1="116.5" x2="498.9" y2="119.3" stroke="#000" stroke-width="1"/>
<line x1="416.5" y1="71.8" x2="416.5" y2="67.5" stroke="#333" stroke-width="0.7"/>
<line x1="412.7" y1="67.5" x2="420.3" y2="67.5" stroke="#222" stroke-width="1"/>
<rect x="409.25" y="71.8" width="14.5" height="44.7" fill="url(#h)"/>
<path d="M410.05,116.5V72.6H422.95V116.5" fill="none" stroke="#000" stroke-width="1.6"/>
<rect x="450.45" y="93" width="14.5" height="23.5" fill="url(#h)"/>
<path d="M451.25,116.5V93.8H464.15V116.5" fill="none" stroke="#000" stroke-width="1.6"/>
<rect x="491.65" y="27.3" width="14.5" height="31.2" fill="url(#h)"/>
<path d="M492.45,58.5V28.1H505.34999999999997V58.5" fill="none" stroke="#000" stroke-width="1.6"/>
<rect x="491.65" y="65.8" width="14.5" height="50.7" fill="url(#h)"/>
<path d="M492.45,116.5V65.8M505.34999999999997,65.8V116.5" fill="none" stroke="#000" stroke-width="1.6"/>
<line x1="387.65" y1="115.8" x2="403.15" y2="115.8" stroke="#000" stroke-width="1.0"/>
<line x1="494.9" y1="27.0" x2="502.9" y2="27.0" stroke="#000" stroke-width="1"/>
<text x="370.6" y="80.8" font-size="11" text-anchor="start" fill="#000" transform="rotate(-90 370.6 80.8)" textLength="42.1" lengthAdjust="spacingAndGlyphs">IL6 (pg)</text>
<line x1="232.5" y1="129.5" x2="232.5" y2="169.3" stroke="#000" stroke-width="1.2"/>
<line x1="230.5" y1="169.3" x2="234.5" y2="169.3" stroke="#000" stroke-width="1.4"/>
<line x1="229.9" y1="129.5" x2="232.5" y2="129.5" stroke="#000" stroke-width="1"/>
<text x="229.9" y="131.7" font-size="6.6" font-weight="bold" text-anchor="end" fill="#000" textLength="9.0" lengthAdjust="spacingAndGlyphs" stroke="#000" stroke-width="0.3">700</text>
<line x1="229.9" y1="142.8" x2="232.5" y2="142.8" stroke="#000" stroke-width="1"/>
<text x="229.9" y="145.0" font-size="6.6" font-weight="bold" text-anchor="end" fill="#000" textLength="9.0" lengthAdjust="spacingAndGlyphs" stroke="#000" stroke-width="0.3">500</text>
<line x1="229.9" y1="156.0" x2="232.5" y2="156.0" stroke="#000" stroke-width="1"/>
<text x="229.9" y="158.2" font-size="6.6" font-weight="bold" text-anchor="end" fill="#000" textLength="9.0" lengthAdjust="spacingAndGlyphs" stroke="#000" stroke-width="0.3">300</text>
<line x1="229.9" y1="169.3" x2="232.5" y2="169.3" stroke="#000" stroke-width="1"/>
<text x="229.9" y="171.5" font-size="6.6" font-weight="bold" text-anchor="end" fill="#000" textLength="9.0" lengthAdjust="spacingAndGlyphs" stroke="#000" stroke-width="0.3">100</text>
<line x1="232.5" y1="175.8" x2="232.5" y2="223" stroke="#000" stroke-width="1.2"/>
<line x1="230.1" y1="175.8" x2="234.5" y2="175.8" stroke="#000" stroke-width="1.4"/>
<line x1="229.9" y1="175.8" x2="232.5" y2="175.8" stroke="#000" stroke-width="1"/>
<text x="229.9" y="178.0" font-size="6.6" font-weight="bold" text-anchor="end" fill="#000" textLength="6.0" lengthAdjust="spacingAndGlyphs" stroke="#000" stroke-width="0.3">25</text>
<line x1="229.9" y1="185.2" x2="232.5" y2="185.2" stroke="#000" stroke-width="1"/>
<text x="229.9" y="187.39999999999998" font-size="6.6" font-weight="bold" text-anchor="end" fill="#000" textLength="6.0" lengthAdjust="spacingAndGlyphs" stroke="#000" stroke-width="0.3">20</text>
<line x1="229.9" y1="194.6" x2="232.5" y2="194.6" stroke="#000" stroke-width="1"/>
<text x="229.9" y="196.79999999999998" font-size="6.6" font-weight="bold" text-anchor="end" fill="#000" textLength="6.0" lengthAdjust="spacingAndGlyphs" stroke="#000" stroke-width="0.3">15</text>
<line x1="229.9" y1="204.0" x2="232.5" y2="204.0" stroke="#000" stroke-width="1"/>
<text x="229.9" y="206.2" font-size="6.6" font-weight="bold" text-anchor="end" fill="#000" textLength="6.0" lengthAdjust="spacingAndGlyphs" stroke="#000" stroke-width="0.3">10</text>
<line x1="229.9" y1="213.4" x2="232.5" y2="213.4" stroke="#000" stroke-width="1"/>
<text x="229.9" y="215.6" font-size="6.6" font-weight="bold" text-anchor="end" fill="#000" textLength="3.0" lengthAdjust="spacingAndGlyphs" stroke="#000" stroke-width="0.3">5</text>
<line x1="229.9" y1="222.9" x2="232.5" y2="222.9" stroke="#000" stroke-width="1"/>
<text x="229.9" y="225.1" font-size="6.6" font-weight="bold" text-anchor="end" fill="#000" textLength="3.0" lengthAdjust="spacingAndGlyphs" stroke="#000" stroke-width="0.3">0</text>
<line x1="232.5" y1="223" x2="352.2" y2="223" stroke="#000" stroke-width="1.3"/>
<line x1="242.3" y1="223" x2="242.3" y2="225.8" stroke="#000" stroke-width="1"/>
<line x1="262.65000000000003" y1="223" x2="262.65000000000003" y2="225.8" stroke="#000" stroke-width="1"/>
<line x1="283.0" y1="223" x2="283.0" y2="225.8" stroke="#000" stroke-width="1"/>
<line x1="303.35" y1="223" x2="303.35" y2="225.8" stroke="#000" stroke-width="1"/>
<line x1="323.70000000000005" y1="223" x2="323.70000000000005" y2="225.8" stroke="#000" stroke-width="1"/>
<line x1="344.05" y1="223" x2="344.05" y2="225.8" stroke="#000" stroke-width="1"/>
<rect x="255.45000000000005" y="221.2" width="14.399999999999977" height="1.8000000000000114" fill="#000"/>
<path d="M256.25000000000006,223V222.0H269.05V223" fill="none" stroke="#000" stroke-width="1.6"/>
<rect x="296.15000000000003" y="183.3" width="14.399999999999977" height="39.69999999999999" fill="url(#h)"/>
<path d="M296.95000000000005,223V184.10000000000002H309.75V223" fill="none" stroke="#000" stroke-width="1.6"/>
<rect x="316.50000000000006" y="220.2" width="14.399999999999977" height="2.8000000000000114" fill="#000"/>
<path d="M317.30000000000007,223V221.0H330.1V223" fill="none" stroke="#000" stroke-width="1.6"/>
<rect x="336.85" y="163" width="14.399999999999977" height="6.300000000000011" fill="url(#h)"/>
<path d="M337.65000000000003,169.3V163.8H350.45V169.3" fill="none" stroke="#000" stroke-width="1.6"/>
<rect x="336.85" y="176" width="14.399999999999977" height="47" fill="url(#h)"/>
<path d="M337.65000000000003,223V176M350.45,176V223" fill="none" stroke="#000" stroke-width="1.6"/>
<line x1="340.05" y1="162.6" x2="348.05" y2="162.6" stroke="#000" stroke-width="1.2"/>
<text x="216.6" y="198.6" font-size="11" text-anchor="start" fill="#000" transform="rotate(-90 216.6 198.6)" textLength="48.6" lengthAdjust="spacingAndGlyphs">TNF (pg)</text>
<line x1="386.2" y1="129.1" x2="386.2" y2="222.2" stroke="#000" stroke-width="1.2"/>
<line x1="383.59999999999997" y1="129.1" x2="386.2" y2="129.1" stroke="#000" stroke-width="1"/>
<text x="383.59999999999997" y="131.29999999999998" font-size="6.6" font-weight="bold" text-anchor="end" fill="#000" textLength="8.2" lengthAdjust="spacingAndGlyphs" stroke="#000" stroke-width="0.3">0.5</text>
<line x1="383.59999999999997" y1="147.72" x2="386.2" y2="147.72" stroke="#000" stroke-width="1"/>
<text x="383.59999999999997" y="149.92" font-size="6.6" font-weight="bold" text-anchor="end" fill="#000" textLength="8.2" lengthAdjust="spacingAndGlyphs" stroke="#000" stroke-width="0.3">0.4</text>
<line x1="383.59999999999997" y1="166.34" x2="386.2" y2="166.34" stroke="#000" stroke-width="1"/>
<text x="383.59999999999997" y="168.54" font-size="6.6" font-weight="bold" text-anchor="end" fill="#000" textLength="8.2" lengthAdjust="spacingAndGlyphs" stroke="#000" stroke-width="0.3">0.3</text>
<line x1="383.59999999999997" y1="184.95999999999998" x2="386.2" y2="184.95999999999998" stroke="#000" stroke-width="1"/>
<text x="383.59999999999997" y="187.15999999999997" font-size="6.6" font-weight="bold" text-anchor="end" fill="#000" textLength="8.2" lengthAdjust="spacingAndGlyphs" stroke="#000" stroke-width="0.3">0.2</text>
<line x1="383.59999999999997" y1="203.57999999999998" x2="386.2" y2="203.57999999999998" stroke="#000" stroke-width="1"/>
<text x="383.59999999999997" y="205.77999999999997" font-size="6.6" font-weight="bold" text-anchor="end" fill="#000" textLength="8.2" lengthAdjust="spacingAndGlyphs" stroke="#000" stroke-width="0.3">0.1</text>
<line x1="383.59999999999997" y1="222.2" x2="386.2" y2="222.2" stroke="#000" stroke-width="1"/>
<text x="383.59999999999997" y="224.39999999999998" font-size="6.6" font-weight="bold" text-anchor="end" fill="#000" textLength="8.2" lengthAdjust="spacingAndGlyphs" stroke="#000" stroke-width="0.3">0.0</text>
<line x1="386.2" y1="222.2" x2="516" y2="222.2" stroke="#000" stroke-width="1.3"/>
<line x1="397.1" y1="222.2" x2="397.1" y2="225" stroke="#000" stroke-width="1"/>
<rect x="389.6" y="220.3" width="15" height="2" fill="#000"/>
<line x1="418.85" y1="222.2" x2="418.85" y2="225" stroke="#000" stroke-width="1"/>
<rect x="411.35" y="220.3" width="15" height="2" fill="#000"/>
<line x1="440.6" y1="222.2" x2="440.6" y2="225" stroke="#000" stroke-width="1"/>
<rect x="433.1" y="220.3" width="15" height="2" fill="#000"/>
<line x1="462.35" y1="222.2" x2="462.35" y2="225" stroke="#000" stroke-width="1"/>
<rect x="454.85" y="220.3" width="15" height="2" fill="#000"/>
<line x1="484.1" y1="222.2" x2="484.1" y2="225" stroke="#000" stroke-width="1"/>
<rect x="476.6" y="220.3" width="15" height="2" fill="#000"/>
<line x1="505.85" y1="222.2" x2="505.85" y2="225" stroke="#000" stroke-width="1"/>
<rect x="498.35" y="220.3" width="15" height="2" fill="#000"/>
<text x="370.8" y="200.5" font-size="11" text-anchor="start" fill="#000" transform="rotate(-90 370.8 200.5)" textLength="64.6" lengthAdjust="spacingAndGlyphs">MCP-1 (pg)</text>
<text x="246.9" y="227" font-size="9.6" text-anchor="end" fill="#000" transform="rotate(-90 246.9 227)" textLength="34.2" lengthAdjust="spacingAndGlyphs">Spl R10</text>
<text x="401.70000000000005" y="227" font-size="9.6" text-anchor="end" fill="#000" transform="rotate(-90 401.70000000000005 227)" textLength="34.2" lengthAdjust="spacingAndGlyphs">Spl R10</text>
<text x="267.25000000000006" y="227" font-size="9.6" text-anchor="end" fill="#000" transform="rotate(-90 267.25000000000006 227)" textLength="49.0" lengthAdjust="spacingAndGlyphs">Spl IL12/18</text>
<text x="423.45000000000005" y="227" font-size="9.6" text-anchor="end" fill="#000" transform="rotate(-90 423.45000000000005 227)" textLength="49.0" lengthAdjust="spacingAndGlyphs">Spl IL12/18</text>
<text x="287.6" y="227" font-size="9.6" text-anchor="end" fill="#000" transform="rotate(-90 287.6 227)" textLength="47.2" lengthAdjust="spacingAndGlyphs">Thym R10</text>
<text x="445.20000000000005" y="227" font-size="9.6" text-anchor="end" fill="#000" transform="rotate(-90 445.20000000000005 227)" textLength="47.2" lengthAdjust="spacingAndGlyphs">Thym R10</text>
<text x="307.95000000000005" y="227" font-size="9.6" text-anchor="end" fill="#000" transform="rotate(-90 307.95000000000005 227)" textLength="59.0" lengthAdjust="spacingAndGlyphs">Thym IL12/18</text>
<text x="466.95000000000005" y="227" font-size="9.6" text-anchor="end" fill="#000" transform="rotate(-90 466.95000000000005 227)" textLength="59.0" lengthAdjust="spacingAndGlyphs">Thym IL12/18</text>
<text x="328.30000000000007" y="227" font-size="9.6" text-anchor="end" fill="#000" transform="rotate(-90 328.30000000000007 227)" textLength="41.2" lengthAdjust="spacingAndGlyphs">Cult. R10</text>
<text x="488.70000000000005" y="227" font-size="9.6" text-anchor="end" fill="#000" transform="rotate(-90 488.70000000000005 227)" textLength="41.2" lengthAdjust="spacingAndGlyphs">Cult. R10</text>
<text x="348.65000000000003" y="227" font-size="9.6" text-anchor="end" fill="#000" transform="rotate(-90 348.65000000000003 227)" textLength="56.2" lengthAdjust="spacingAndGlyphs">Cult. IL12/18</text>
<text x="510.45000000000005" y="227" font-size="9.6" text-anchor="end" fill="#000" transform="rotate(-90 510.45000000000005 227)" textLength="56.2" lengthAdjust="spacingAndGlyphs">Cult. IL12/18</text>
<text x="191.9" y="278.5" font-size="17" font-weight="bold" text-anchor="start" fill="#000">C</text>
<line x1="237.8" y1="287.3" x2="237.8" y2="398" stroke="#000" stroke-width="2"/>
<line x1="233.60000000000002" y1="287.6" x2="237.8" y2="287.6" stroke="#000" stroke-width="1.6"/>
<text x="233.3" y="290.70000000000005" font-size="8.6" font-weight="bold" text-anchor="end" fill="#000" textLength="8.2" lengthAdjust="spacingAndGlyphs">55</text>
<line x1="233.60000000000002" y1="297.6" x2="237.8" y2="297.6" stroke="#000" stroke-width="1.6"/>
<text x="233.3" y="300.70000000000005" font-size="8.6" font-weight="bold" text-anchor="end" fill="#000" textLength="8.2" lengthAdjust="spacingAndGlyphs">50</text>
<line x1="233.60000000000002" y1="307.6" x2="237.8" y2="307.6" stroke="#000" stroke-width="1.6"/>
<text x="233.3" y="310.70000000000005" font-size="8.6" font-weight="bold" text-anchor="end" fill="#000" textLength="8.2" lengthAdjust="spacingAndGlyphs">45</text>
<line x1="233.60000000000002" y1="317.6" x2="237.8" y2="317.6" stroke="#000" stroke-width="1.6"/>
<text x="233.3" y="320.70000000000005" font-size="8.6" font-weight="bold" text-anchor="end" fill="#000" textLength="8.2" lengthAdjust="spacingAndGlyphs">40</text>
<line x1="233.60000000000002" y1="327.6" x2="237.8" y2="327.6" stroke="#000" stroke-width="1.6"/>
<text x="233.3" y="330.70000000000005" font-size="8.6" font-weight="bold" text-anchor="end" fill="#000" textLength="8.2" lengthAdjust="spacingAndGlyphs">35</text>
<line x1="233.60000000000002" y1="337.6" x2="237.8" y2="337.6" stroke="#000" stroke-width="1.6"/>
<text x="233.3" y="340.70000000000005" font-size="8.6" font-weight="bold" text-anchor="end" fill="#000" textLength="8.2" lengthAdjust="spacingAndGlyphs">30</text>
<line x1="233.60000000000002" y1="347.6" x2="237.8" y2="347.6" stroke="#000" stroke-width="1.6"/>
<text x="233.3" y="350.70000000000005" font-size="8.6" font-weight="bold" text-anchor="end" fill="#000" textLength="8.2" lengthAdjust="spacingAndGlyphs">25</text>
<line x1="233.60000000000002" y1="357.6" x2="237.8" y2="357.6" stroke="#000" stroke-width="1.6"/>
<text x="233.3" y="360.70000000000005" font-size="8.6" font-weight="bold" text-anchor="end" fill="#000" textLength="8.2" lengthAdjust="spacingAndGlyphs">20</text>
<line x1="233.60000000000002" y1="367.6" x2="237.8" y2="367.6" stroke="#000" stroke-width="1.6"/>
<text x="233.3" y="370.70000000000005" font-size="8.6" font-weight="bold" text-anchor="end" fill="#000" textLength="8.2" lengthAdjust="spacingAndGlyphs">15</text>
<line x1="233.60000000000002" y1="377.6" x2="237.8" y2="377.6" stroke="#000" stroke-width="1.6"/>
<text x="233.3" y="380.70000000000005" font-size="8.6" font-weight="bold" text-anchor="end" fill="#000" textLength="8.2" lengthAdjust="spacingAndGlyphs">10</text>
<line x1="233.60000000000002" y1="387.6" x2="237.8" y2="387.6" stroke="#000" stroke-width="1.6"/>
<text x="233.3" y="390.70000000000005" font-size="8.6" font-weight="bold" text-anchor="end" fill="#000" textLength="4.1" lengthAdjust="spacingAndGlyphs">5</text>
<line x1="233.60000000000002" y1="397.6" x2="237.8" y2="397.6" stroke="#000" stroke-width="1.6"/>
<text x="233.3" y="400.70000000000005" font-size="8.6" font-weight="bold" text-anchor="end" fill="#000" textLength="4.1" lengthAdjust="spacingAndGlyphs">0</text>
<line x1="236.8" y1="398" x2="408" y2="398" stroke="#000" stroke-width="2"/>
<line x1="265.7" y1="398" x2="265.7" y2="402.5" stroke="#000" stroke-width="1.6"/>
<text x="265.7" y="409.1" font-size="8" font-weight="bold" text-anchor="middle" fill="#000" textLength="11.9" lengthAdjust="spacingAndGlyphs">1:5</text>
<line x1="322" y1="398" x2="322" y2="402.5" stroke="#000" stroke-width="1.6"/>
<text x="322" y="409.1" font-size="8" font-weight="bold" text-anchor="middle" fill="#000" textLength="17.9" lengthAdjust="spacingAndGlyphs">1:0.5</text>
<line x1="378.2" y1="398" x2="378.2" y2="402.5" stroke="#000" stroke-width="1.6"/>
<text x="378.2" y="409.1" font-size="8" font-weight="bold" text-anchor="middle" fill="#000" textLength="9.8" lengthAdjust="spacingAndGlyphs">1:0</text>
<text x="299.4" y="424.5" font-size="11" font-weight="bold" text-anchor="start" fill="#000" textLength="44.6" lengthAdjust="spacingAndGlyphs">E:T ratio</text>
<text x="218.7" y="384.6" font-size="11" font-weight="bold" text-anchor="start" fill="#000" transform="rotate(-90 218.7 384.6)" textLength="85.3" lengthAdjust="spacingAndGlyphs">% Degranulation</text>
<polyline points="265.7,299.8 322.0,358.1 378.2,386.9" fill="none" stroke="#000" stroke-width="1.8" stroke-dasharray="5,3"/>
<polyline points="265.7,321.8 322.0,371.3 378.2,393.5" fill="none" stroke="#000" stroke-width="2"/>
<polyline points="265.7,322.2 322.0,363.7 378.2,393.8" fill="none" stroke="#000" stroke-width="2"/>
<path d="M262.2,296.3L269.2,303.3M262.2,303.3L269.2,296.3" stroke="#000" stroke-width="1.3"/>
<path d="M318.5,354.6L325.5,361.6M318.5,361.6L325.5,354.6" stroke="#000" stroke-width="1.3"/>
<path d="M374.7,383.4L381.7,390.4M374.7,390.4L381.7,383.4" stroke="#000" stroke-width="1.3"/>
<circle cx="265.7" cy="321.8" r="2.6" fill="#000"/>
<circle cx="322" cy="371.3" r="2.6" fill="#000"/>
<circle cx="378.2" cy="393.5" r="2.6" fill="#000"/>
<polygon points="262.7,319.8 268.7,319.8 265.7,325.2" fill="#000"/>
<polygon points="319,361.3 325,361.3 322,366.7" fill="#000"/>
<polygon points="375.2,391.40000000000003 381.2,391.40000000000003 378.2,396.8" fill="#000"/>
<line x1="332" y1="294.5" x2="348" y2="294.5" stroke="#000" stroke-width="1.5" stroke-dasharray="3,2"/>
<path d="M337.3,291.5L343.3,297.5M337.3,297.5L343.3,291.5" stroke="#000" stroke-width="1.3"/>
<text x="351.5" y="298.3" font-size="9" text-anchor="start" fill="#000" textLength="65" lengthAdjust="spacingAndGlyphs">Splenic NK cells</text>
<line x1="332" y1="307.4" x2="348" y2="307.4" stroke="#000" stroke-width="1.8"/>
<circle cx="340.3" cy="307.4" r="2.4" fill="#000"/>
<text x="351.5" y="311.2" font-size="9" text-anchor="start" fill="#000" textLength="64.5" lengthAdjust="spacingAndGlyphs">Thymic NK cells</text>
<line x1="332" y1="319.8" x2="348" y2="319.8" stroke="#000" stroke-width="1.8"/>
<polygon points="337.5,317.56 343.1,317.56 340.3,322.6" fill="#000"/>
<text x="351.5" y="323.6" font-size="9" text-anchor="start" fill="#000" textLength="62.1" lengthAdjust="spacingAndGlyphs">In vitro NK cells</text>
</svg></body></html>
